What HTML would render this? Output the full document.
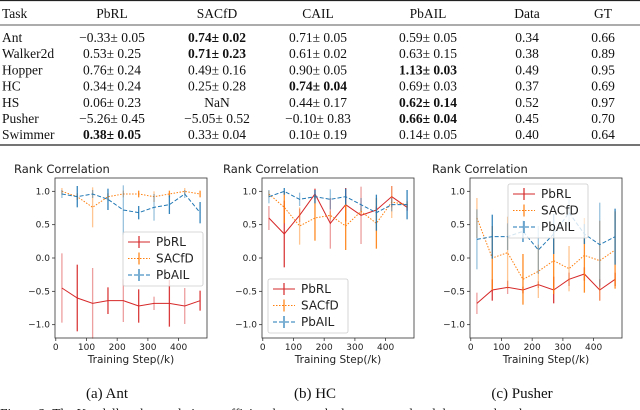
<!DOCTYPE html>
<html><head><meta charset="utf-8"><style>
html,body{margin:0;padding:0;background:#fff;}
svg{display:block;}
.tb{font-family:"Liberation Serif",serif;font-size:13.5px;fill:#111;}
.cap{font-family:"Liberation Serif",serif;font-size:15px;fill:#111;}
.b{font-weight:bold;}
.ax{font-family:"DejaVu Sans",sans-serif;fill:#222;}
</style></head><body>
<svg id="root" width="640" height="410" viewBox="0 0 640 410" xmlns="http://www.w3.org/2000/svg">
<g>
<line x1="0" y1="0.5" x2="640" y2="0.5" stroke="#222" stroke-width="1.2"/>
<line x1="0" y1="25" x2="640" y2="25" stroke="#222" stroke-width="0.8"/>
<line x1="0" y1="145" x2="640" y2="145" stroke="#222" stroke-width="1.2"/>
<g id="tbl"></g>
</g>
<g id="charts"></g>
<text class="cap" x="107" y="398" text-anchor="middle">(a) Ant</text>
<text class="cap" x="315" y="398" text-anchor="middle">(b) HC</text>
<text class="cap" x="522" y="398" text-anchor="middle">(c) Pusher</text>
<text class="tb" x="0" y="418">Figure 2: The Kendall rank correlation coefficient between the learnt reward and the ground truth</text>
</svg>
<script>
const NS="http://www.w3.org/2000/svg";
function mk(tag,attrs,parent,txt){const e=document.createElementNS(NS,tag);for(const k in attrs)e.setAttribute(k,attrs[k]);if(txt!==undefined)e.textContent=txt;parent.appendChild(e);return e;}
// table
const tblHeaders=["Task","PbRL","SACfD","CAIL","PbAIL","Data","GT"];
const tblRows=[
["Ant","−0.33± 0.05","*0.74± 0.02","0.71± 0.05","0.59± 0.05","0.34","0.66"],
["Walker2d","0.53± 0.25","*0.71± 0.23","0.61± 0.02","0.63± 0.15","0.38","0.89"],
["Hopper","0.76± 0.24","0.49± 0.16","0.90± 0.05","*1.13± 0.03","0.49","0.95"],
["HC","0.34± 0.24","0.25± 0.28","*0.74± 0.04","0.69± 0.03","0.37","0.69"],
["HS","0.06± 0.23","NaN","0.44± 0.17","*0.62± 0.14","0.52","0.97"],
["Pusher","−5.26± 0.45","−5.05± 0.52","−0.10± 0.83","*0.66± 0.04","0.45","0.70"],
["Swimmer","*0.38± 0.05","0.33± 0.04","0.10± 0.19","0.14± 0.05","0.40","0.64"]];
const colX=[2,112,217,318,428,527,603];
const tbl=document.getElementById('tbl');
tblHeaders.forEach((h,i)=>{const t=mk('text',{class:'tb',x:colX[i],y:18,'text-anchor':i?'middle':'start'},tbl,h);

});
tblRows.forEach((r,ri)=>{const y=42+ri*16.2;r.forEach((c,ci)=>{let bold=c[0]==='*';let s=bold?c.slice(1):c;
const t=mk('text',{class:'tb'+(bold?' b':''),x:colX[ci],y:y,'text-anchor':ci?'middle':'start'},tbl,s);

});});

// chart data
const steps=[20,70,120,170,220,270,320,370,420,470];
const xTicks=[0,100,200,300,400];
const yTicks=[1.0,0.5,0.0,-0.5,-1.0];
const antPbRL=[-0.45,-0.6,-0.68,-0.64,-0.64,-0.72,-0.68,-0.68,-0.72,-0.64];
const antPbRLErr=[0.52,0.5,0.53,0.2,0.32,0.25,0.1,0.35,0.27,0.15];
const antSACfD=[1.0,0.92,0.76,0.92,0.96,0.96,0.92,0.96,1.0,0.96];
const antSACfDErr=[0.05,0.05,0.3,0.05,0.05,0.05,0.08,0.05,0.05,0.05];
const antPbAIL=[0.96,0.92,0.96,0.88,0.72,0.68,0.76,0.8,0.96,0.68];
const antPbAILErr=[0.06,0.16,0.06,0.16,0.37,0.1,0.2,0.14,0.06,0.16];
const hcPbRL=[0.6,0.36,0.64,0.96,0.52,0.8,0.64,0.72,0.92,0.76];
const hcPbRLErr=[0.18,0.5,0.1,0.08,0.38,0.25,0.43,0.05,0.16,0.05];
const hcSACfD=[0.96,0.76,0.48,0.6,0.64,0.48,0.7,0.52,0.84,0.8];
const hcSACfDErr=[0.05,0.24,0.28,0.34,0.06,0.36,0.05,0.38,0.24,0.05];
const hcPbAIL=[0.92,1.0,0.88,0.92,0.88,0.92,0.8,0.68,0.8,0.8];
const hcPbAILErr=[0.1,0.05,0.1,0.1,0.15,0.12,0.1,0.27,0.1,0.22];
const puPbRL=[-0.68,-0.48,-0.44,-0.48,-0.4,-0.48,-0.32,-0.24,-0.48,-0.32];
const puPbRLErr=[0.16,0.16,0.1,0.05,0.05,0.2,0.1,0.1,0.16,0.1];
const puSACfD=[0.6,0.0,0.08,-0.32,-0.2,-0.04,-0.16,0.04,-0.04,0.12];
const puSACfDErr=[0.3,0.48,0.54,0.38,0.4,0.5,0.34,0.56,0.6,0.58];
const puPbAIL=[0.28,0.32,0.32,0.4,0.12,0.36,0.68,0.36,0.2,0.32];
const puPbAILErr=[0.45,0.33,0.2,0.16,0.36,0.3,0.2,0.15,0.63,0.42];

const panels=[
 {id:'ant',left:55,titleX:14,series:[[antPbRL,antPbRLErr],[antSACfD,antSACfDErr],[antPbAIL,antPbAILErr]],leg:[123,232]},
 {id:'hc',left:262,titleX:223,series:[[hcPbRL,hcPbRLErr],[hcSACfD,hcSACfDErr],[hcPbAIL,hcPbAILErr]],leg:[268,279]},
 {id:'pusher',left:470,titleX:432,series:[[puPbRL,puPbRLErr],[puSACfD,puSACfDErr],[puPbAIL,puPbAILErr]],leg:[508,184]}];
const names=['PbRL','SACfD','PbAIL'];
const colors=['#d62728','#ff7f0e','#1f77b4'];
const dashes=['none','1.5,1.5','4,2'];
const W=152,TOP=178,BOT=338,XMIN=-2.5,XMAX=492.5,YMIN=-1.2,YMAX=1.2;
const root=document.getElementById('charts');
panels.forEach(p=>{
 const sx=v=>p.left+(v-XMIN)/(XMAX-XMIN)*W;
 const sy=v=>BOT-(v-YMIN)/(YMAX-YMIN)*(BOT-TOP);
 const g=mk('g',{},root);
 
 
 const t=mk('text',{class:'ax',x:p.titleX,y:173,'font-size':'11.5'},g,'Rank Correlation');
 
 
 xTicks.forEach(v=>{mk('line',{x1:sx(v),x2:sx(v),y1:BOT,y2:BOT+3,stroke:'#333','stroke-width':0.8},g);
  const l=mk('text',{class:'ax',x:sx(v),y:BOT+12,'font-size':'9','text-anchor':'middle'},g,String(v));
  
  });
 yTicks.forEach(v=>{mk('line',{x1:p.left-3,x2:p.left,y1:sy(v),y2:sy(v),stroke:'#333','stroke-width':0.8},g);
  const l=mk('text',{class:'ax',x:p.left-5,y:sy(v)+3,'font-size':'9','text-anchor':'end'},g,(v<0?'−':'')+Math.abs(v).toFixed(1));
  
  });
 const xl=mk('text',{class:'ax',x:p.left+W/2,y:BOT+25,'font-size':'10.5','text-anchor':'middle'},g,'Training Step(/k)');
 
 
 p.series.forEach((s,si)=>{
  const sg=mk('g',{},g);
  
  
  s[0].forEach((v,i)=>{const eb=mk('line',{x1:sx(steps[i]),x2:sx(steps[i]),y1:sy(v-s[1][i]),y2:sy(v+s[1][i]),stroke:colors[si],'stroke-width':1.3,'stroke-opacity':i%2?0.9:0.45},sg);
   
   });
  const pts=s[0].map((v,i)=>sx(steps[i])+','+sy(v)).join(' ');
  const pl=mk('polyline',{points:pts,fill:'none',stroke:colors[si],'stroke-width':1,'stroke-dasharray':dashes[si]},sg);
  
  
 });
 mk('rect',{x:p.left,y:TOP,width:W,height:BOT-TOP,fill:'none',stroke:'#333','stroke-width':0.8},g);
 const lg=mk('g',{},g);
 
 
 const [lx,ly]=p.leg;
 mk('rect',{x:lx,y:ly,width:80,height:54,fill:'#fff','fill-opacity':0.8,stroke:'#ccc','stroke-width':0.8,rx:2},lg);
 names.forEach((n,i)=>{const yy=ly+10+i*16.5;
  mk('line',{x1:lx+5,x2:lx+27,y1:yy,y2:yy,stroke:colors[i],'stroke-width':1,'stroke-dasharray':dashes[i]},lg);
  mk('line',{x1:lx+16,x2:lx+16,y1:yy-6,y2:yy+6,stroke:colors[i],'stroke-width':1.2},lg);
  const lt=mk('text',{class:'ax',x:lx+33,y:yy+4,'font-size':'12'},lg,n);
  
  });
});
</script>
</body></html>
